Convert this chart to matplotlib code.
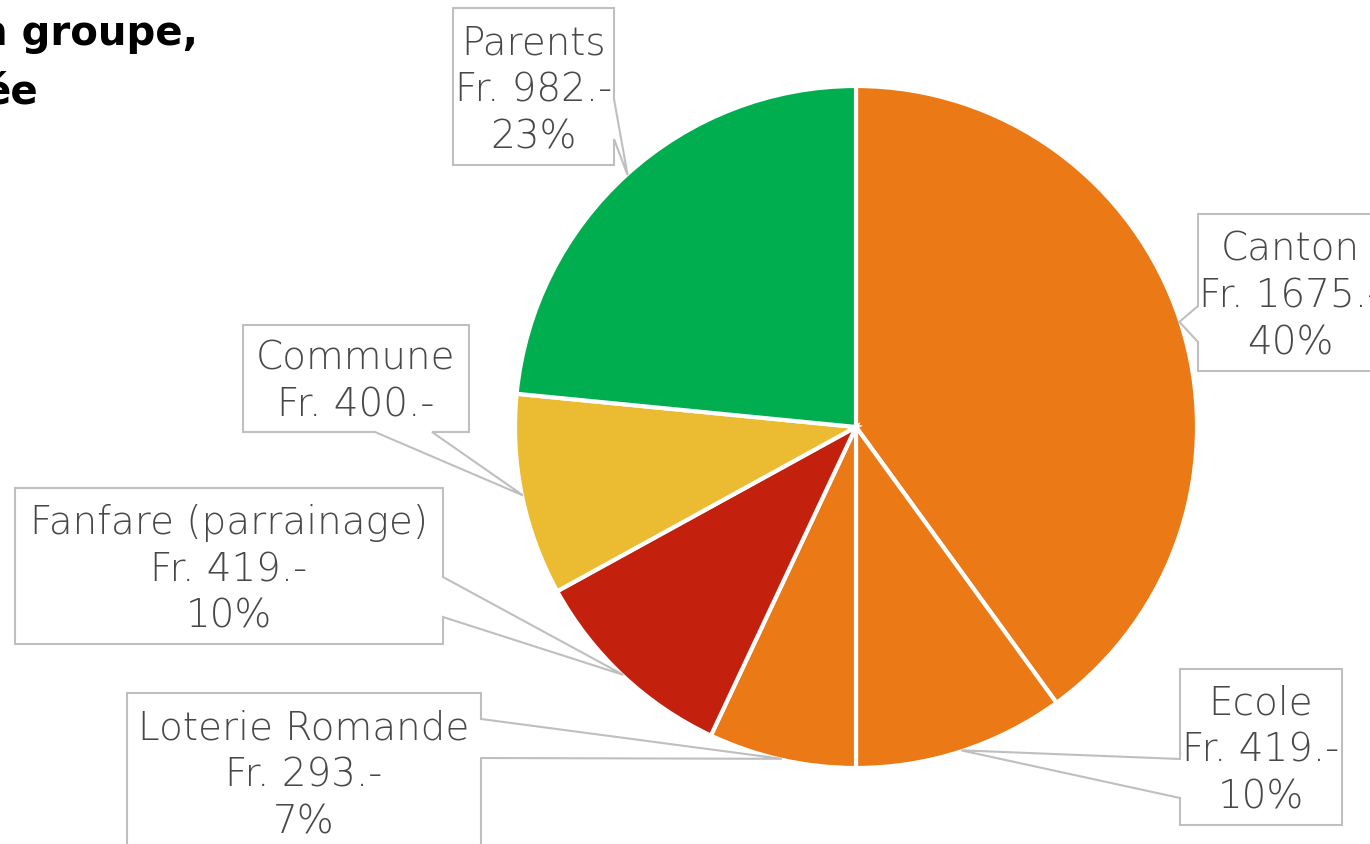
import numpy as np
import matplotlib.pyplot as plt
from matplotlib.patches import Polygon

# Financement du camp - sources
sources = ["Canton", "Ecole", "Loterie Romande", "Fanfare (parrainage)", "Commune", "Parents"]
amounts = [1675, 419, 293, 419, 400, 982]
show_pct = [True, True, True, True, False, True]
colors = ["#EA7916", "#EA7916", "#EA7916", "#C3200E", "#EBBB31", "#00AE50"]

# callout boxes in pixels (x0, top, x1, bottom), side of the pointer, pointer span
boxes = [
    ((1198, 215, 1382, 372), "left", 307, 343),
    ((1180, 670, 1342, 826), "left", 760, 799),
    ((127, 694, 481, 851), "right", 720, 759),
    ((15, 489, 443, 645), "right", 578, 618),
    ((243, 326, 469, 433), "bottom", 375, 432),
    ((453, 9, 614, 166), "right", 100, 140),
]

W, H = 1370, 845
cx, cy, r = 856, H - 428, 341

fig = plt.figure(figsize=(13.7, 8.45), dpi=100)
ax = fig.add_axes([0, 0, 1, 1])

wedges, _ = ax.pie(amounts, colors=colors, startangle=90, counterclock=False,
                   center=(cx, cy), radius=r,
                   wedgeprops=dict(edgecolor="white", linewidth=3))
ax.set_xlim(0, W)
ax.set_ylim(0, H)
ax.set_aspect("equal")
ax.axis("off")

total = sum(amounts)
for w, name, amt, pct, (box, side, n0, n1) in zip(wedges, sources, amounts, show_pct, boxes):
    mid = np.radians((w.theta1 + w.theta2) / 2)
    tip = (cx + (r - 1) * np.cos(mid), cy + (r - 1) * np.sin(mid))
    x0, y0, x1, y1 = box
    y0, y1, n0d, n1d = H - y0, H - y1, H - n0, H - n1
    if side == "left":
        pts = [(x0, y0), (x1, y0), (x1, y1), (x0, y1), (x0, n1d), tip, (x0, n0d)]
    elif side == "right":
        pts = [(x0, y0), (x1, y0), (x1, n0d), tip, (x1, n1d), (x1, y1), (x0, y1)]
    else:
        pts = [(x0, y0), (x1, y0), (x1, y1), (n1, y1), tip, (n0, y1), (x0, y1)]
    ax.add_patch(Polygon(pts, closed=True, facecolor="white", edgecolor="#BFBFBF",
                         linewidth=1.5, joinstyle="miter", zorder=3))
    label = f"{name}\nFr. {amt}.-"
    if pct:
        label += f"\n{round(100 * amt / total)}%"
    ax.text((x0 + x1) / 2, (y0 + y1) / 2 - 3, label, ha="center", va="center",
            fontsize=28, fontweight="light", color="#484848", linespacing=1.3, zorder=4)

# title (cut at the left edge in the original)
fig.text(198 / W, 1 - 45 / H, "n groupe,", ha="right", va="baseline",
         fontsize=29, fontweight="bold", color="black")
fig.text(38 / W, 1 - 103 / H, "ée", ha="right", va="baseline",
         fontsize=29, fontweight="bold", color="black")

fig.savefig("out.png", dpi=100, facecolor="white")
